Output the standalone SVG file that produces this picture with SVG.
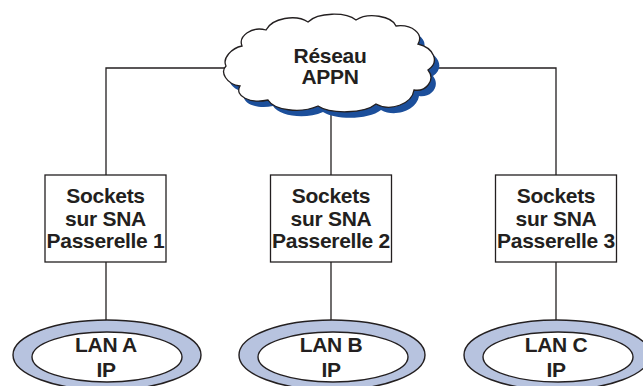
<svg xmlns="http://www.w3.org/2000/svg" width="643" height="386" viewBox="0 0 643 386">
<style>
.t{font-family:"Liberation Sans",Arial,Helvetica,sans-serif;font-weight:bold;font-size:21px;letter-spacing:-0.3px;fill:#231f20;text-anchor:middle}
.box{fill:#fff;stroke:#231f20;stroke-width:1.3}
.ln{stroke:#231f20;stroke-width:1.3;fill:none}
.ro{fill:#b7c3df;stroke:#231f20;stroke-width:1.4}
.ri{fill:#fff;stroke:#231f20;stroke-width:1.4}
</style>
<defs>
<path id="cloudp" d="M226,66 C222,58 232,48 242,46 C238,36 252,26 266,30 C272,18 296,14 308,22 C318,12 346,12 356,20 C368,12 392,16 396,26 C412,24 424,34 418,44 C434,48 440,62 428,70 C436,80 426,92 414,90 C412,104 390,112 376,104 C364,114 330,114 318,106 C300,114 274,110 268,100 C250,104 234,96 240,86 C226,84 220,72 226,66 Z"/>
</defs>
<rect width="643" height="386" fill="#fff"/>
<g id="connectors">
<polyline class="ln" points="227,68 106,68 106,175"/>
<polyline class="ln" points="432,68 556,68 556,175"/>
<line class="ln" x1="331" y1="108" x2="331" y2="175"/>
<line class="ln" x1="106" y1="262" x2="106" y2="321"/>
<line class="ln" x1="331" y1="262" x2="331" y2="321"/>
<line class="ln" x1="556" y1="262" x2="556" y2="321"/>
</g>
<g id="cloud">
<use href="#cloudp" transform="translate(5,6)" fill="#1c4f9b"/>
<use href="#cloudp" fill="#fff" stroke="#231f20" stroke-width="1.3"/>
<text class="t" x="330" y="63">Réseau</text>
<text class="t" x="330" y="84">APPN</text>
</g>
<g id="gw1">
<rect class="box" x="45" y="175" width="121" height="87"/>
<text class="t" x="105.5" y="203">Sockets</text>
<text class="t" x="105.5" y="225.5">sur SNA</text>
<text class="t" x="105.5" y="247.5">Passerelle 1</text>
</g>
<g id="gw2">
<rect class="box" x="270.5" y="175" width="121" height="87"/>
<text class="t" x="331" y="203">Sockets</text>
<text class="t" x="331" y="225.5">sur SNA</text>
<text class="t" x="331" y="247.5">Passerelle 2</text>
</g>
<g id="gw3">
<rect class="box" x="495.5" y="175" width="121" height="87"/>
<text class="t" x="556" y="203">Sockets</text>
<text class="t" x="556" y="225.5">sur SNA</text>
<text class="t" x="556" y="247.5">Passerelle 3</text>
</g>
<g id="lanA">
<ellipse class="ro" cx="107" cy="355" rx="94" ry="35"/>
<ellipse class="ri" cx="107" cy="357" rx="75" ry="25"/>
<text class="t" x="106" y="352">LAN A</text>
<text class="t" x="106" y="377">IP</text>
</g>
<g id="lanB">
<ellipse class="ro" cx="332" cy="355" rx="93" ry="35"/>
<ellipse class="ri" cx="333" cy="357" rx="75" ry="25"/>
<text class="t" x="331" y="352">LAN B</text>
<text class="t" x="331" y="377">IP</text>
</g>
<g id="lanC">
<ellipse class="ro" cx="557" cy="355" rx="93" ry="35"/>
<ellipse class="ri" cx="558" cy="357" rx="75" ry="25"/>
<text class="t" x="556" y="352">LAN C</text>
<text class="t" x="556" y="377">IP</text>
</g>
</svg>
